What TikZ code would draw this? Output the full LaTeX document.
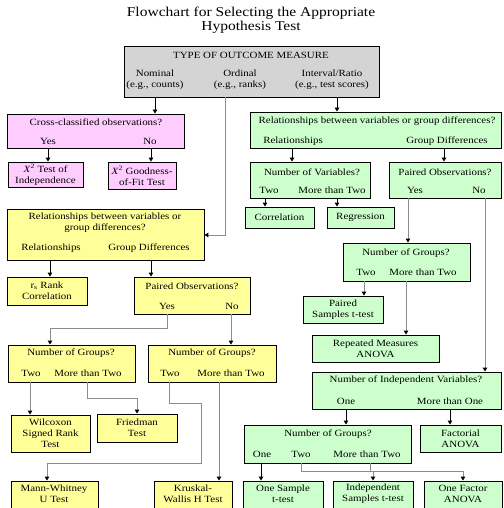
\documentclass[tikz,border=0pt]{standalone}
\usepackage{fontspec}
\setmainfont{Liberation Serif}[FakeStretch=1.15]
\usetikzlibrary{arrows.meta,fit}
\definecolor{pinkf}{RGB}{255,204,255}
\definecolor{yelf}{RGB}{255,255,153}
\definecolor{grnf}{RGB}{204,255,204}
\definecolor{grayf}{RGB}{212,212,212}
\definecolor{lineg}{RGB}{140,140,140}
\newcommand\mybox[6]{\node[#2, fit={(#3,#4) (#5,#6)}] (#1) {};}
\begin{document}
\begin{tikzpicture}[x=1pt,y=-1pt,
  box/.style={draw=black, line width=0.9pt, inner sep=0pt},
  pinkbox/.style={box, fill=pinkf},
  yelbox/.style={box, fill=yelf},
  grnbox/.style={box, fill=grnf},
  graybox/.style={box, fill=grayf},
  txt/.style={font=\fontsize{9.5}{11}\selectfont, inner sep=0pt, align=center},
  titletxt/.style={font=\fontsize{13.5}{13.5}\selectfont, inner sep=0pt, align=center},
  arr/.style={draw=black, line width=0.9pt, -{Triangle[length=4pt,width=4.5pt]}},
  conn/.style={draw=lineg, line width=1pt, -{Triangle[length=4pt,width=4.5pt,color=black]}},
]
\useasboundingbox (0,0) rectangle (503,508);
\fill[white] (0,0) rectangle (503,508);

\node[titletxt] (title) at (251,20) {Flowchart for Selecting the Appropriate\\Hypothesis Test};

% top box
\mybox{top}{graybox}{124}{46}{379}{97}
\node[txt] (topq) at (251,55) {TYPE OF OUTCOME MEASURE};
\node[txt] (nom) at (155,80) {Nominal\\(e.g., counts)};
\node[txt] (ord) at (240,80) {Ordinal\\(e.g., ranks)};
\node[txt] (intv) at (332,80) {Interval/Ratio\\(e.g., test scores)};

% pink
\mybox{pq}{pinkbox}{7}{114}{184}{148}
\node[txt] (pqt) at (96,122) {Cross-classified observations?};
\node[txt] (pyes) at (48,141) {Yes};
\node[txt] (pno) at (150,141) {No};
\mybox{chia}{pinkbox}{8}{162}{83}{187}
\node[txt] (chiat) at (chia.center) {\textit{X}\textsuperscript{2} Test of\\Independence};
\mybox{chib}{pinkbox}{108}{162}{176}{189}
\node[txt] (chibt) at (chib.center) {\textit{X}\textsuperscript{2} Goodness-\\of-Fit Test};

% green
\mybox{g1}{grnbox}{250}{112}{501}{148}
\node[txt] (g1q) at (377,121) {Relationships between variables or group differences?};
\node[txt] (g1r) at (293,141) {Relationships};
\node[txt] (g1g) at (447,141) {Group Differences};
\mybox{gvar}{grnbox}{250}{162}{370}{198}
\node[txt] (gvarq) at (312,172) {Number of Variables?};
\node[txt] (gvart) at (269,190) {Two};
\node[txt] (gvarm) at (332,190) {More than Two};
\mybox{corr}{grnbox}{245}{207}{314}{228}
\node[txt] (corrt) at (corr.center) {Correlation};
\mybox{regr}{grnbox}{327}{207}{394}{228}
\node[txt] (regrt) at (regr.center) {Regression};
\mybox{gpair}{grnbox}{389}{162}{501}{198}
\node[txt] (gpairq) at (445,172) {Paired Observations?};
\node[txt] (gpairy) at (415,190) {Yes};
\node[txt] (gpairn) at (479,190) {No};
\mybox{gng}{grnbox}{343}{243}{470}{281}
\node[txt] (gngq) at (406,253) {Number of Groups?};
\node[txt] (gngt) at (366,272) {Two};
\node[txt] (gngm) at (423,272) {More than Two};
\mybox{pst}{grnbox}{303}{296}{383}{323}
\node[txt] (pstt) at (pst.center) {Paired\\Samples t-test};
\mybox{rma}{grnbox}{312}{335}{439}{362}
\node[txt] (rmat) at (rma.center) {Repeated Measures\\ANOVA};
\mybox{giv}{grnbox}{312}{372}{501}{409}
\node[txt] (givq) at (406,380) {Number of Independent Variables?};
\node[txt] (givo) at (346,401) {One};
\node[txt] (givm) at (450,401) {More than One};
\mybox{gng2}{grnbox}{244}{425}{411}{463}
\node[txt] (gng2q) at (328,434) {Number of Groups?};
\node[txt] (gng2o) at (262,454) {One};
\node[txt] (gng2t) at (301,454) {Two};
\node[txt] (gng2m) at (367,454) {More than Two};
\mybox{fact}{grnbox}{420}{425}{501}{452}
\node[txt] (factt) at (fact.center) {Factorial\\ANOVA};
\mybox{ost}{grnbox}{243}{481}{323}{510}
\node[txt] (ostt) at (283,494) {One Sample\\t-test};
\mybox{ist}{grnbox}{333}{481}{413}{510}
\node[txt] (istt) at (373,494) {Independent\\Samples t-test};
\mybox{ofa}{grnbox}{424}{481}{502}{510}
\node[txt] (ofat) at (463,494) {One Factor\\ANOVA};

% yellow
\mybox{yrel}{yelbox}{7}{209}{204}{260}
\node[txt] (yrelq) at (105,223) {Relationships between variables or\\group differences?};
\node[txt] (yrelr) at (51,248) {Relationships};
\node[txt] (yrelg) at (149,248) {Group Differences};
\mybox{rank}{yelbox}{7}{277}{87}{305}
\node[txt] (rankt) at (rank.center) {r\textsubscript{s} Rank\\Correlation};
\mybox{ypair}{yelbox}{134}{277}{250}{314}
\node[txt] (ypairq) at (192,286) {Paired Observations?};
\node[txt] (ypairy) at (167,306) {Yes};
\node[txt] (ypairn) at (232,306) {No};
\mybox{yng1}{yelbox}{8}{345}{135}{382}
\node[txt] (yng1q) at (71,353) {Number of Groups?};
\node[txt] (yng1t) at (31,373) {Two};
\node[txt] (yng1m) at (88,373) {More than Two};
\mybox{yng2}{yelbox}{148}{345}{276}{382}
\node[txt] (yng2q) at (212,353) {Number of Groups?};
\node[txt] (yng2t) at (170,373) {Two};
\node[txt] (yng2m) at (231,373) {More than Two};
\mybox{wil}{yelbox}{11}{415}{90}{452}
\node[txt] (wilt) at (wil.center) {Wilcoxon\\Signed Rank\\Test};
\mybox{fried}{yelbox}{97}{414}{177}{442}
\node[txt] (friedt) at (fried.center) {Friedman\\Test};
\mybox{mw}{yelbox}{11}{481}{98}{510}
\node[txt] (mwt) at (54,494) {Mann-Whitney\\U Test};
\mybox{kw}{yelbox}{154}{481}{232}{510}
\node[txt] (kwt) at (193,494) {Kruskal-\\Wallis H Test};

% connector x positions
\coordinate (xnom) at (155,0);
\coordinate (xord) at (225,0);
\coordinate (xint) at (337,0);
\coordinate (xpy) at (48,0);
\coordinate (xpn) at (151,0);
\coordinate (xgr) at (292,0);
\coordinate (xgg) at (444,0);
\coordinate (xvt) at (265,0);
\coordinate (xvm) at (337,0);
\coordinate (xgy) at (408,0);
\coordinate (xgn) at (485,0);
\coordinate (xnt) at (364,0);
\coordinate (xnm) at (406,0);
\coordinate (xio) at (346,0);
\coordinate (xim) at (450,0);
\coordinate (xn2o) at (261,0);
\coordinate (xn2t) at (301,0);
\coordinate (xn2m) at (370,0);
\coordinate (xyr) at (50,0);
\coordinate (xyg) at (151,0);
\coordinate (xyy) at (167,0);
\coordinate (xyn) at (231,0);
\coordinate (x1t) at (30,0);
\coordinate (x1m) at (87,0);
\coordinate (x2t) at (169,0);
\coordinate (x2m) at (219,0);
\coordinate (xmw) at (47,0);
% bends
\coordinate (bord) at (225,235);
\coordinate (bn2t) at (301,471);
\coordinate (bn2m) at (370,471);
\coordinate (byy) at (167,328);
\coordinate (b1m) at (87,398);
\coordinate (b2ta) at (169,403);
\coordinate (b2tb) at (201,463);

% top connectors
\draw[arr] (xnom |- top.south) -- (xnom |- pq.north);
\draw[conn] (xord |- top.south) -- (bord) -- (yrel.east |- bord);
\draw[arr] (xint |- top.south) -- (xint |- g1.north);
% pink
\draw[arr] (xpy |- pq.south) -- (xpy |- chia.north);
\draw[arr] (xpn |- pq.south) -- (xpn |- chib.north);
% green
\draw[arr] (xgr |- g1.south) -- (xgr |- gvar.north);
\draw[arr] (xgg |- g1.south) -- (xgg |- gpair.north);
\draw[arr] (xvt |- gvar.south) -- (xvt |- corr.north);
\draw[arr] (xvm |- gvar.south) -- (xvm |- regr.north);
\draw[conn] (xgy |- gpair.south) -- (xgy |- gng.north);
\draw[conn] (xgn |- gpair.south) -- (xgn |- giv.north);
\draw[conn] (xnt |- gng.south) -- (xnt |- pst.north);
\draw[conn] (xnm |- gng.south) -- (xnm |- rma.north);
\draw[arr] (xio |- giv.south) -- (xio |- gng2.north);
\draw[arr] (xim |- giv.south) -- (xim |- fact.north);
\draw[arr] (xn2o |- gng2.south) -- (xn2o |- ost.north);
\draw[conn] (xn2t |- gng2.south) -- (bn2t) -| (ist.north);
\draw[conn] (xn2m |- gng2.south) -- (bn2m) -| (ofa.north);
% yellow
\draw[arr] (xyr |- yrel.south) -- (xyr |- rank.north);
\draw[arr] (xyg |- yrel.south) -- (xyg |- ypair.north);
\draw[conn] (xyy |- ypair.south) -- (byy) -| (xyr |- yng1.north);
\draw[conn] (xyn |- ypair.south) -- (xyn |- yng2.north);
\draw[conn] (x1t |- yng1.south) -- (x1t |- wil.north);
\draw[conn] (x1m |- yng1.south) -- (b1m) -| (fried.north);
\draw[conn] (x2t |- yng2.south) -- (b2ta) -| (b2tb) -| (xmw |- mw.north);
\draw[conn] (x2m |- yng2.south) -- (x2m |- kw.north);
\end{tikzpicture}
\end{document}
